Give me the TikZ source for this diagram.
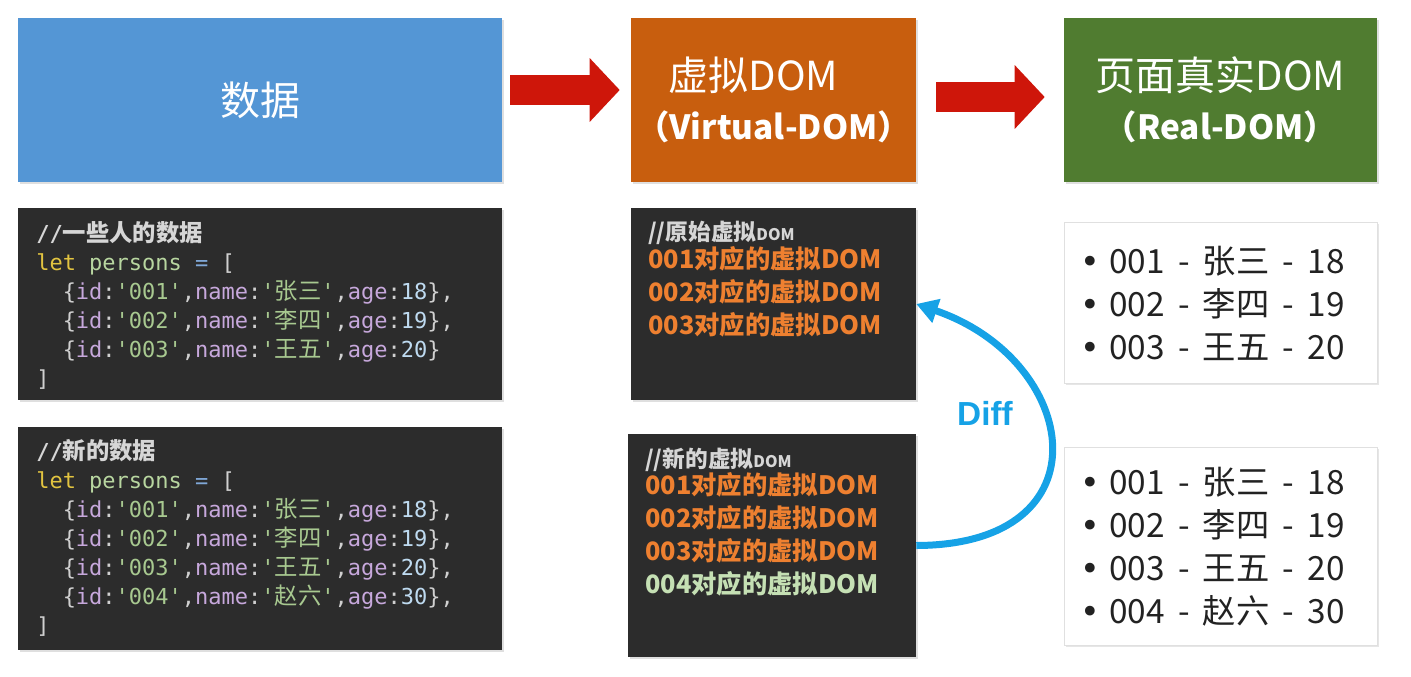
\documentclass[tikz,border=0pt]{standalone}
\usepackage{fontspec}
\usepackage{xcolor}
\usetikzlibrary{arrows.meta,shadows}
\setmainfont{Noto Sans CJK SC}
\newfontfamily\cjk{Noto Sans CJK SC}
\newfontfamily\codefont{DejaVu Sans Mono}
\newfontfamily\difffont{Liberation Sans}
\newfontfamily\symfont{DejaVu Sans}

\definecolor{databg}{RGB}{84,150,213}
\definecolor{vdombg}{RGB}{200,94,14}
\definecolor{realbg}{RGB}{80,124,48}
\definecolor{codebg}{RGB}{44,44,44}
\definecolor{arrowred}{RGB}{206,22,10}
\definecolor{diffblue}{RGB}{22,162,230}
\definecolor{cmt}{RGB}{214,214,214}
\definecolor{kw}{RGB}{226,196,64}
\definecolor{var}{RGB}{184,214,160}
\definecolor{op}{RGB}{128,168,216}
\definecolor{punc}{RGB}{208,208,208}
\definecolor{prop}{RGB}{199,168,220}
\definecolor{str}{RGB}{168,201,144}
\definecolor{num}{RGB}{190,218,240}
\definecolor{vorange}{RGB}{238,128,48}
\definecolor{vgreen}{RGB}{197,224,180}
\definecolor{listink}{RGB}{34,34,34}

% one line of the persons array
\newcommand{\zh}[1]{{\cjk\fontsize{17.5}{21.75}\selectfont #1}}
\newcommand{\pers}[4]{\hspace*{1.204em}\textcolor{punc}{\{}\textcolor{prop}{id}\textcolor{punc}{:}\textcolor{str}{'#1'}\textcolor{punc}{,}\textcolor{prop}{name}\textcolor{punc}{:}\textcolor{str}{'\zh{#2}'}\textcolor{punc}{,}\textcolor{prop}{age}\textcolor{punc}{:}\textcolor{num}{#3}\textcolor{punc}{\}#4}}
% one item of the page list
\newcommand{\dsh}{\hspace{0.4em}-\hspace{0.4em}}
\newcommand{\itm}{\makebox[21.75pt][l]{\symfont •}}

\tikzset{
  flowbox/.style={rectangle, inner sep=0pt, text=white, align=center, drop shadow={opacity=0.25,shadow xshift=1.5pt,shadow yshift=-1.5pt}},
  codebox/.style={rectangle, fill=codebg, inner sep=0pt, drop shadow={opacity=0.25,shadow xshift=1.5pt,shadow yshift=-1.5pt}},
  listbox/.style={rectangle, fill=white, draw=black!12, inner sep=0pt, drop shadow={opacity=0.2,shadow xshift=1.5pt,shadow yshift=-1.5pt}},
  codetext/.style={anchor=west, inner sep=0pt, align=left, font=\codefont\fontsize{16.5}{21.75}\selectfont},
  vdomtext/.style={anchor=west, inner sep=0pt, align=left, font=\bfseries\fontsize{19}{24.75}\selectfont},
  listtext/.style={anchor=west, inner sep=0pt, align=left, text=listink, font=\fontsize{25}{32.25}\selectfont},
  bigarrow/.style={draw=arrowred, line width=22.5pt, -{Triangle[length=22.5pt,width=46.5pt]}},
  diffarrow/.style={draw=diffblue, line width=5.25pt, -{Triangle[length=16pt,width=18pt]}},
  difftext/.style={text=diffblue, inner sep=0pt, font=\difffont\bfseries\fontsize{25}{30}\selectfont},
}

\begin{document}
\begin{tikzpicture}[x=0.75pt,y=0.75pt,yscale=-1,xscale=1]
	\useasboundingbox (0,0) rectangle (1411,676);

	%Rect [data]
	\node[flowbox, fill=databg, minimum width=363pt, minimum height=123pt, font=\fontsize{30}{37}\selectfont] (data) at (260,100) {数据};
	%Rect [vdom]
	\node[flowbox, fill=vdombg, minimum width=213.75pt, minimum height=123pt, font=\fontsize{30}{37}\selectfont] (vdom) at (773.5,100) {虚拟DOM\hspace*{30pt}\\{\fontsize{25}{37}\selectfont\bfseries （Virtual-DOM）}};
	%Rect [real]
	\node[flowbox, fill=realbg, minimum width=234.75pt, minimum height=123pt, font=\fontsize{30}{37}\selectfont] (real) at (1220.5,100) {页面真实DOM\\{\fontsize{25}{37}\selectfont\bfseries （Real-DOM）}};

	%Block Arrows
	\draw[bigarrow, shorten <=6pt, shorten >=8.25pt] ([yshift=-7.5pt]data.east) -- ([yshift=-7.5pt]vdom.west);
	\draw[bigarrow, shorten <=15pt, shorten >=14.25pt] ([yshift=-2.25pt]vdom.east) -- ([yshift=-2.25pt]real.west);

	%Code Rects
	\node[codebox, minimum width=363pt, minimum height=144pt] (code1) at (260,304) {};
	\node[codebox, minimum width=363pt, minimum height=167.25pt] (code2) at (260,538.5) {};
	\node[codebox, minimum width=213.75pt, minimum height=144pt] (vold) at (773.5,304) {};
	\node[codebox, minimum width=216pt, minimum height=167.25pt] (vnew) at (772,545.5) {};
	%List Rects
	\node[listbox, minimum width=234.75pt, minimum height=120.75pt] (list1) at (1220.5,302.5) {};
	\node[listbox, minimum width=234.75pt, minimum height=148.5pt] (list2) at (1220.5,546) {};

	% Text Node
	\node[codetext] (code1txt) at (36,305) {\textcolor{cmt}{\bfseries //\zh{一些人的数据}}\\
		\textcolor{kw}{let} \textcolor{var}{persons} \textcolor{op}{=} \textcolor{punc}{[}\\
		\pers{001}{张三}{18}{,}\\
		\pers{002}{李四}{19}{,}\\
		\pers{003}{王五}{20}{}\\
		\textcolor{punc}{]}};
	% Text Node
	\node[codetext] (code2txt) at (36,538) {\textcolor{cmt}{\bfseries //\zh{新的数据}}\\
		\textcolor{kw}{let} \textcolor{var}{persons} \textcolor{op}{=} \textcolor{punc}{[}\\
		\pers{001}{张三}{18}{,}\\
		\pers{002}{李四}{19}{,}\\
		\pers{003}{王五}{20}{,}\\
		\pers{004}{赵六}{30}{,}\\
		\textcolor{punc}{]}};
	% Text Node
	\node[vdomtext] (voldtxt) at (648,279) {\textcolor{cmt}{\fontsize{17}{20}\selectfont //原始虚拟{\fontsize{12}{14}\selectfont DOM}}\\[-4pt]
		\textcolor{vorange}{001对应的虚拟DOM}\\
		\textcolor{vorange}{002对应的虚拟DOM}\\
		\textcolor{vorange}{003对应的虚拟DOM}};
	% Text Node
	\node[vdomtext] (vnewtxt) at (645,522) {\textcolor{cmt}{\fontsize{17}{20}\selectfont //新的虚拟{\fontsize{12}{14}\selectfont DOM}}\\[-4pt]
		\textcolor{vorange}{001对应的虚拟DOM}\\
		\textcolor{vorange}{002对应的虚拟DOM}\\
		\textcolor{vorange}{003对应的虚拟DOM}\\
		\textcolor{vgreen}{004对应的虚拟DOM}};
	% Text Node
	\node[listtext] (list1txt) at (1080,303) {\itm 001\dsh 张三\dsh 18\\
		\itm 002\dsh 李四\dsh 19\\
		\itm 003\dsh 王五\dsh 20};
	% Text Node
	\node[listtext] (list2txt) at (1080,547) {\itm 001\dsh 张三\dsh 18\\
		\itm 002\dsh 李四\dsh 19\\
		\itm 003\dsh 王五\dsh 20\\
		\itm 004\dsh 赵六\dsh 30};

	%Curve Lines [diff]
	\draw[diffarrow] (vnew.east) .. controls (1110,545) and (1080,360) .. (vold.east);
	% Text Node
	\node[difftext] (diff) at (985,413) {Diff};

\end{tikzpicture}
\end{document}
